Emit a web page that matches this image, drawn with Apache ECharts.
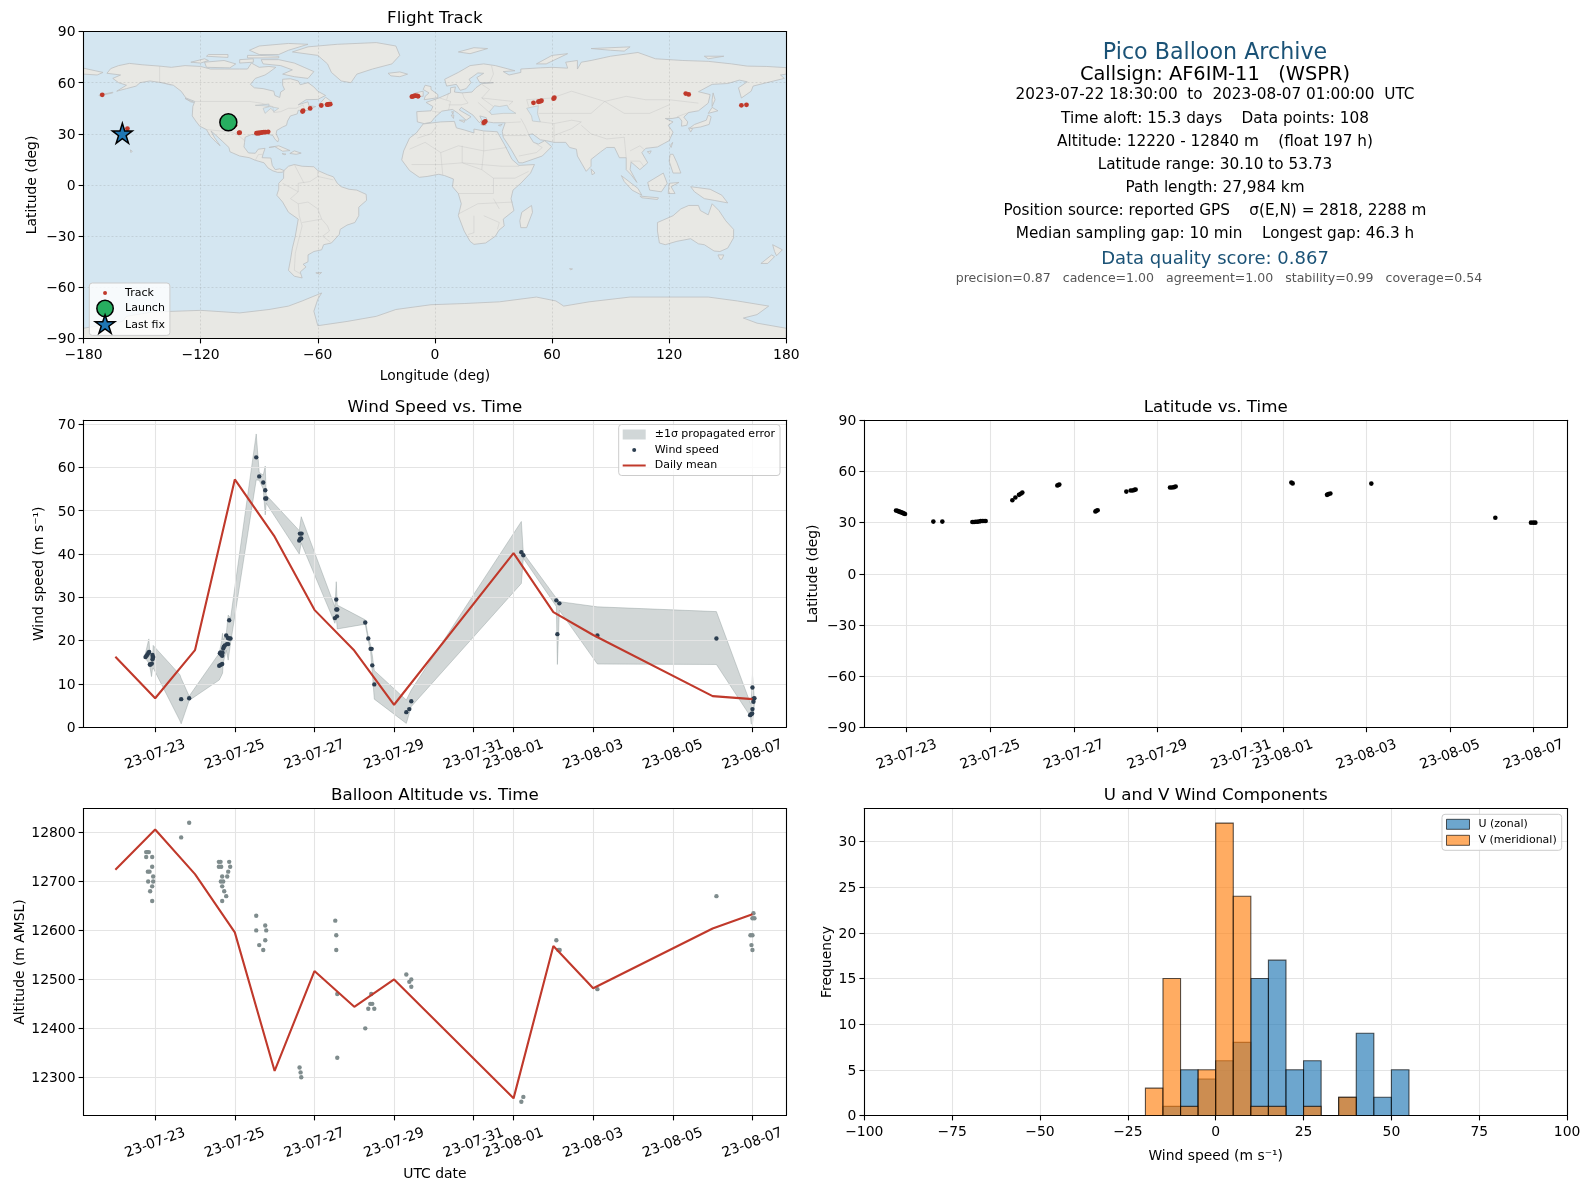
<!DOCTYPE html>
<html><head><meta charset="utf-8">
<style>html,body{margin:0;padding:0;background:#fff}#c{width:1589px;height:1189px}</style>
<script src="https://cdn.jsdelivr.net/npm/echarts@6/dist/echarts.min.js"></script>
</head><body><div id="c"></div>
<script>
// ---------- shared tick values ----------
const timeTickDays = [0,2,4,6,8,9,11,13,15];
const lonTicks = [-180,-120,-60,0,60,120,180];
const latTicks = [-90,-60,-30,0,30,60,90];
const windTicks = [0,10,20,30,40,50,60,70];
const altTicks = [12300,12400,12500,12600,12700,12800];
const histXTicks = [-100,-75,-50,-25,0,25,50,75,100];
const histYTicks = [0,5,10,15,20,25,30];

// ---------- flight track (lon, lat) ----------
const trackLon = [-105.6,-105.1,-104.6,-104.1,-103.6,-103.2,-102.8,-102.4,-100.3,-100.0,-91.4,-91,-90.4,-89.8,-89,-88.4,-87.6,-86.8,-85.4,-67.8,-67.5,-63.9,-58.2,-55.2,-54.8,-54.2,-53.6,-11.8,-11.2,-10.6,-10,-9,-8.6,25,25.4,25.8,50.5,53,53.6,54.2,54.6,60.8,61.2,128.5,130,157,159.6,-170.4,-157.5,-160.3,-160.1,-159.9];
const trackLat = [37.1,36.9,36.6,36.3,36,35.7,35.4,35.1,30.6,30.7,30.4,30.4,30.5,30.5,30.7,30.9,31,31,31.2,43.1,43.6,44.9,46.6,47.1,47.2,47.4,47.4,51.8,52,52.2,52.4,52.2,52,36.5,36.9,37.3,48.2,48.8,49,49.2,49.4,50.6,51.2,53.6,53.1,46.7,47,52.9,33.1,30,30.1,30.2];
const launchPoint = [-105.8,36.8];
const lastFixPoint = [-160.1,30.3];

// ---------- wind speed, days after 2023-07-23 00:00 UTC ----------
const windDays = [-0.243,-0.218,-0.193,-0.168,-0.151,-0.134,-0.117,-0.084,-0.067,-0.067,-0.059,-0.05,0.653,0.854,1.608,1.625,1.642,1.642,1.658,1.683,1.683,1.692,1.709,1.725,1.75,1.784,1.801,1.826,1.834,1.859,1.859,1.893,2.538,2.613,2.714,2.764,2.764,2.789,3.618,3.635,3.643,3.668,3.677,4.514,4.548,4.548,4.565,4.573,5.276,5.352,5.41,5.436,5.452,5.503,6.307,6.382,6.432,9.196,9.246,10.075,10.101,10.151,11.106,14.095,14.942,14.967,14.992,15,15,15.025,15.025,15.05];
const windSpeed = [16.2,16.5,16.8,17.2,17.4,14.5,14.5,14.7,16.7,15.7,16.2,16.2,6.5,6.7,14.2,17.1,14.4,17.3,16.8,14.6,16.5,17.2,18.2,18.6,18.9,21.2,19.2,20.6,19.2,20.5,24.7,20.5,62.3,57.9,56.5,54.7,52.8,52.8,43.1,44.7,43.5,43.6,44.7,25.2,27.2,29.5,25.6,27.2,24.2,20.5,18.1,18.1,14.3,9.9,3.5,4.2,6,40.4,39.7,29.3,21.5,28.6,21.2,20.5,2.8,3,3.2,9.2,4.2,6.6,5.9,6.7];
const bandDays = [-0.243,-0.159,-0.134,-0.092,-0.067,-0.05,0.622,0.653,0.854,1.608,1.658,1.692,1.709,1.784,1.834,1.893,2.538,2.613,2.714,2.764,2.789,3.618,3.668,4.514,4.548,4.573,5.276,5.352,5.41,5.452,5.503,6.307,6.432,9.196,9.246,10.075,10.101,10.151,11.106,14.095,14.95,14.967,15,15.05];
const bandHigh = [17.1,20.4,17.5,15.8,15.2,18.9,12.1,11.3,7.2,17.1,19.4,21.7,20.2,21.5,25.9,25.2,67.7,58.8,58.2,60.3,53.6,45.4,48.6,27.8,33.6,28.2,24.8,20.9,19,16.7,13.1,6.3,8.6,47.5,40.2,29.8,29.4,29,27.8,26.7,5.5,5.5,12.1,6.3];
const bandLow = [15.9,14.8,14,11.7,13.5,13.7,1.5,0.8,6.2,10.9,11.8,12.5,14.8,17.8,15.5,19.4,57.1,57,55,49,51.7,40,42.5,24,25.5,22.7,23.8,20,17.5,12.8,6.5,0.9,4.8,33.2,39,27.9,14.5,27,14.6,14.5,2.5,0.8,0.8,5.5];
const dailyDays = [-1,0,1,2,3,4,5,6,9,10,11,14,15];
const dailyWind = [16.3,6.7,17.8,57.2,44,27.1,17.7,5.2,40.2,26.6,21.3,7.2,6.5];
const dailyAlt = [12724,12806,12715,12596,12313,12517,12444,12500,12257,12568,12482,12604,12633];

// ---------- latitude ----------
const latDays = [-0.255,-0.223,-0.191,-0.159,-0.128,-0.096,-0.072,-0.04,0.638,0.853,1.571,1.611,1.651,1.691,1.73,1.77,1.81,1.85,1.89,2.528,2.6,2.687,2.727,2.767,3.604,3.628,3.652,4.514,4.537,4.569,5.255,5.359,5.407,5.447,5.478,6.3,6.348,6.396,6.435,9.203,9.234,10.056,10.088,10.136,11.116,14.083,14.936,14.992,15.04];
const latValues = [37.1,36.9,36.6,36.3,36,35.7,35.4,35.1,30.6,30.6,30.4,30.4,30.5,30.5,30.7,30.9,31,31,31,43.1,44.7,46.3,46.9,47.6,51.8,52.1,52.4,36.5,36.9,37.3,48.2,48.8,48.8,49.2,49.4,50.6,50.6,50.8,51.2,53.5,53,46.3,46.7,47.1,52.9,32.9,30,30,30];

// ---------- altitude ----------
const altDays = [-0.226,-0.193,-0.159,-0.226,-0.075,-0.075,-0.184,-0.142,-0.05,-0.176,-0.05,-0.075,-0.126,-0.075,0.653,0.854,1.6,1.642,1.859,1.6,1.658,1.884,1.834,1.683,1.809,1.65,1.709,1.683,1.734,1.784,1.683,2.538,2.764,2.538,2.789,2.764,2.613,2.714,3.626,3.652,3.668,4.523,4.548,4.548,4.573,4.573,5.427,5.402,5.452,5.352,5.503,5.276,6.307,6.382,6.432,6.432,9.196,9.246,10.075,10.126,10.159,11.106,14.095,15.025,15,15.05,14.95,15,14.975,15];
const altValues = [12760,12760,12760,12750,12750,12730,12720,12720,12710,12700,12700,12690,12680,12660,12790,12820,12740,12740,12740,12730,12730,12730,12720,12710,12710,12700,12700,12690,12680,12670,12660,12630,12610,12600,12600,12580,12570,12560,12320,12310,12300,12620,12590,12560,12470,12340,12470,12450,12450,12440,12440,12400,12510,12495,12500,12485,12250,12260,12580,12560,12560,12480,12670,12635,12625,12625,12590,12590,12570,12560];

// ---------- histogram ----------
const histBinLeft = [-20,-15,-10,-5,0,5,10,15,20,25,30,35,40,45,50];
const histU = [0,1,5,4,6,8,15,17,5,6,0,2,9,2,5];
const histV = [3,15,1,5,32,24,1,1,0,1,0,2,0,0,0];
const histBinWidth = 5;

// ---------- info panel ----------
const infoLines = [
 ["Pico Balloon Archive",53.5,22.2,"#1a5276",1215],
 ["Callsign: AF6IM-11   (WSPR)",75,19.4,"#000",1215],
 ["2023-07-22 18:30:00  to  2023-08-07 01:00:00  UTC",95.5,15.28,"#000",1215],
 ["Time aloft: 15.3 days    Data points: 108",119,15.28,"#000",1215],
 ["Altitude: 12220 - 12840 m    (float 197 h)",142,15.28,"#000",1215],
 ["Latitude range: 30.10 to 53.73",165,15.28,"#000",1215],
 ["Path length: 27,984 km",188.2,15.28,"#000",1215],
 ["Position source: reported GPS    σ(E,N) = 2818, 2288 m",211.3,15.28,"#000",1215],
 ["Median sampling gap: 10 min    Longest gap: 46.3 h",234.4,15.28,"#000",1215],
 ["Data quality score: 0.867",259,18,"#1a5276",1215],
 ["precision=0.87   cadence=1.00   agreement=1.00   stability=0.99   coverage=0.54",278.5,12.55,"#555",1219]
];

// ---------- base map outlines (lon, lat) ----------
const landPolygons = [
 // North America
 [[-168,65.5],[-166,68.3],[-162,70],[-156.5,71.3],[-150,70.5],[-141,69.7],[-135,69],[-128,70],[-120,69.5],[-115,68],[-108,68],[-100,68],[-96,68],[-94,71.5],[-90,69],[-85,69.5],[-81.5,69],[-85,66],[-87,64.5],[-92,62.5],[-94.5,59],[-92.5,57],[-88,56.5],[-82.5,55],[-82,52.5],[-79.5,51.3],[-79,54.5],[-77,56],[-78,58.5],[-78,62],[-74,62.3],[-70,61],[-69,58.8],[-65,60],[-62,57.5],[-60,55],[-56,52.5],[-60,50.2],[-66,50],[-70,47],[-65,48.8],[-64.5,46.5],[-61,46],[-65.5,43.7],[-70,43.8],[-70.5,41.7],[-74,40.5],[-75.5,37.5],[-76,35],[-78,34],[-81,32],[-81.3,30],[-80,26.8],[-80.5,25.2],[-82,27],[-83,29],[-85,29.7],[-89,30.3],[-90,29.2],[-94,29.6],[-97.2,28],[-97.5,25],[-97.8,22.3],[-95.5,18.8],[-92,18.6],[-90.5,21],[-87,21.5],[-88,18.2],[-88.5,16],[-84,15.8],[-83.3,11.5],[-81.8,9],[-79.5,9.5],[-77.3,8.5],[-78,7.5],[-80.5,7.4],[-83,8.3],[-85.5,10],[-87.5,13],[-92,14.5],[-95,16],[-100,17],[-105,19.5],[-105.5,22],[-109,25.8],[-112.5,29.5],[-114.7,31.7],[-113,28],[-110,23],[-112,25],[-115,28.5],[-117,32.5],[-120.5,34.5],[-122.5,37.5],[-124.3,40.5],[-124,46],[-123,49],[-127.5,51],[-130,55],[-134,58.5],[-140,60],[-146,61],[-151,60],[-153,58],[-158,56.5],[-163,55],[-158,58.5],[-162,60],[-165,62.5],[-161,64.5]],
 // Greenland
 [[-73,78],[-65,81],[-50,82.5],[-30,83.5],[-20,81.5],[-18,76],[-22,71],[-32,68],[-40,65],[-43,60],[-48,61],[-53,66],[-55,71],[-60,76]],
 // Canadian Arctic and Atlantic islands
 [[-80,73.5],[-72,71.5],[-67,69],[-62,66.5],[-65,62.5],[-72,63.5],[-78,65],[-73,67.5],[-79,70],[-88,71],[-89,73.5]],
 [[-90,76.5],[-80,76.5],[-75,79],[-65,82.5],[-75,83],[-90,81.5],[-95,79]],
 [[-117,69],[-105,68.7],[-102,71],[-108,73],[-118,72]],
 [[-125,72],[-118,74],[-116,73],[-120,71.5]],
 [[-96,74.5],[-80,74.5],[-80,75.5],[-90,76],[-96,76]],
 [[-100,71.5],[-93,72],[-93,74],[-100,73.5]],
 [[-117,75.5],[-106,74.8],[-106,76.5],[-116,76.5]],
 [[-59,47.7],[-53,46.8],[-53,49],[-56,51.5]],
 [[-128,50.8],[-123.5,48.5],[-125,48.7]],
 [[-85,22],[-80,23],[-74.2,20.2],[-78,19.8],[-82,22.5]],
 [[-74.3,18.5],[-72,20],[-68.5,18.7],[-71,18]],
 [[-78.3,18.4],[-76.3,18.1],[-77,17.8]],
 [[-156,20.6],[-155,19.8],[-155.7,19]],
 [[-172,52.3],[-165,54],[-165,54.4],[-172,52.7]],
 // South America
 [[-77.3,8.5],[-75,11],[-72,12],[-68,11],[-62,10.7],[-60,8.5],[-55,6],[-52,4.8],[-50,1],[-48,-1],[-44,-2.5],[-40,-3],[-35.2,-5.5],[-35,-9],[-39,-13],[-39,-18],[-41,-22],[-45,-23.5],[-48.5,-26],[-49,-29],[-53,-34],[-57,-35],[-58,-38],[-62,-39],[-65,-41],[-65,-45],[-67.5,-46.5],[-66,-48],[-69,-51],[-68,-54.5],[-72,-53.5],[-75,-50],[-74,-44],[-73,-37],[-71.5,-30],[-70,-20],[-75,-16],[-78,-10],[-81,-6],[-80,-2.5],[-80,1],[-77.5,4],[-77.5,7]],
 [[-61,-51.5],[-58,-51.3],[-59,-52.3]],
 // Africa
 [[-6,35.8],[3,37],[10,37.3],[11,33.5],[15,32.3],[20,30.5],[20,32.8],[25,31.7],[32,31.2],[32.5,30],[35.5,24],[37.3,20],[39.5,15],[43,11.5],[51,12],[49,7],[44,1],[40,-3],[39,-8],[40.5,-15],[35,-20],[35.5,-24],[32.8,-26.5],[31,-30],[26,-34],[20,-34.8],[18,-33],[15,-27],[12,-18],[13.5,-11],[12,-5],[9,-1],[9.5,3.5],[5,5.5],[2,6.3],[-4,5],[-8,4.5],[-13,8.5],[-17,14.7],[-16,20],[-13,27.5],[-9.5,30.5]],
 [[49.5,-12],[50,-16],[47,-25],[44,-25],[43.5,-21],[44.5,-16]],
 // Eurasia
 [[-9,37],[-9.3,43],[-2,43.5],[-1,46],[-4.5,48.4],[2,51],[4,52],[8,54],[8,57],[10.5,57.5],[10,54.5],[14,54],[19,54.5],[21,57],[24,59.4],[30,60],[23,60],[21.5,63],[25,65.5],[22,65.7],[17.5,62],[18.5,60],[16,56.5],[13,55.5],[11,59],[6,58],[5,62],[12,66],[18,70],[25,71],[31,70],[41,67],[35,66.5],[38,64.5],[44,66],[44,68],[54,68.7],[60,69],[68,68.5],[67,72],[73,73],[73,68],[75,72],[80,73],[90,75.5],[104,77.7],[113,74],[127,73],[140,72.5],[152,71],[160,69.7],[170,69.5],[180,68.8],[180,65],[177,64.5],[179,62.5],[170,60],[163,58],[162,55],[157,51],[155.5,57],[160,60.5],[156,61.5],[150,59.5],[142,59],[135,54.7],[141,53],[140,48],[135,43.5],[130,42.5],[127.5,39.8],[129.5,37],[129,35],[126.3,34.5],[126.5,37.5],[125,39.7],[121.5,39],[118,39],[122,37],[119.5,35],[122,31],[120,26],[114,22.3],[108,21.5],[106,19],[109,13],[105,9],[100.5,13.5],[100,9],[103.5,1.5],[100.5,6],[98,9],[98,16],[94.5,16],[92,22],[88,22],[85,19.5],[80,15],[80,11],[77.5,8],[73,17],[72.5,21],[69,22],[67,25],[61,25],[57,26],[54,26.5],[50,30],[48,29.5],[50.5,25],[53,24],[56.3,26],[59.8,22.5],[55,17],[45,13],[43,13],[39,21],[35,28],[34.5,31.5],[36,36.5],[30,36.5],[27,37],[26.3,39.5],[23,40.5],[24,38],[22.8,36.5],[19.5,41],[13.5,45.5],[12.5,44],[18.5,40],[16,38],[12,42],[9,44.3],[3.5,43.3],[0,39.7],[-2,36.8],[-5.5,36]],
 [[-180,68.5],[-174,67],[-170,66],[-173,64.5],[-180,65]],
 // Eurasian islands
 [[-5.5,50],[1.5,51.2],[1.5,53],[-2,56],[-2,57.7],[-5,58.5],[-6,56],[-3,54],[-5,52]],
 [[-10,52],[-6,52],[-6,55],[-10,54]],
 [[-24,65.5],[-18,66.3],[-14,65],[-18,63.5],[-22.5,64]],
 [[130,33],[136,34],[140.5,35.5],[141.5,40],[140,41],[139,38],[133,35.5]],
 [[130,33.5],[132,33],[131,31]],
 [[140,42],[145,43.5],[142,45.5]],
 [[142,46],[143.5,50],[142.5,54],[142,50]],
 [[120.5,23],[121.8,25],[121,22]],
 [[108.8,19.5],[110.8,20],[110,18.3]],
 [[120.5,18],[122,18],[124,13],[126,7],[122,7],[120,14]],
 [[109,1.5],[117,7],[119,1],[116,-4],[110,-3]],
 [[95.5,5.5],[104,-2],[106,-6],[101,-3],[97,2]],
 [[105,-6.5],[114.5,-7.5],[114,-8.5],[106,-7.5]],
 [[119.5,-5],[120,1],[125,1.5],[121,-1],[123,-5]],
 [[131,-1],[141,-2.5],[147,-6],[150,-10.5],[143,-9],[138,-8],[133,-4]],
 [[80,9.5],[82,7],[80.5,6]],
 [[52,71],[57,71],[68,77],[60,76]],
 [[12,78],[20,80.5],[27,80],[18,77]],
 [[12.5,38],[15.5,38],[15,36.7]],
 [[8.3,41],[9.7,41],[9.5,39]],
 [[8.6,43],[9.5,43],[9.2,41.5]],
 [[32.5,35],[34.5,35.6],[33.5,34.6]],
 [[23.5,35.5],[26.3,35.2],[24.5,34.9]],
 [[80,80],[100,81],[97,78.5],[90,79]],
 [[148,75.5],[140,74],[138,75.5]],
 // Australia and New Zealand
 [[114,-22],[122,-18],[126,-14],[130,-12],[135,-12],[136,-15],[140,-17.5],[142,-11],[145.5,-15],[149,-21],[153,-26],[153,-31],[150,-37],[146,-39],[143,-38.7],[138,-35],[135,-34.5],[131,-31.5],[124,-33],[118,-35],[115,-34],[114,-27]],
 [[145,-41],[148,-41],[147,-43.5],[146,-43.5]],
 [[173,-35],[178,-38],[175,-41.5],[174,-39]],
 [[172.5,-41],[174,-42],[170.5,-46],[167,-46]],
 [[69,-49],[70.5,-49.2],[69.5,-49.8]],
 // Antarctica
 [[-180,-90],[-180,-84],[-160,-80],[-158,-77],[-145,-74.5],[-120,-73.5],[-100,-75],[-85,-73],[-75,-71],[-68,-68],[-58,-63.3],[-60,-67],[-62,-74],[-60,-82.5],[-45,-80],[-30,-77],[-20,-73],[-2,-70.2],[15,-69.5],[33,-68.5],[52,-65.7],[62,-68],[66,-71],[79,-68.5],[100,-65.7],[140,-65.7],[155,-68],[171,-71],[165,-76],[158,-78],[165,-81],[180,-84],[180,-90]]
];
const waterPolygons = [
 [[28,43],[29,41.3],[35,42],[41.5,42],[38,44.5],[37,46.8],[33,46],[30.5,46.5]],
 [[47,45],[53,46.5],[52.5,42],[54,37],[50,37.5],[49.5,40.5]],
 [[-92,46.7],[-85,47.5],[-85,46],[-88,46.5]],
 [[-88,45],[-84.5,46],[-80,45],[-82.5,43],[-84,45],[-87,42]]
];
const borderLines = [
 [[-123,49],[-95,49],[-89,48],[-83,46],[-82.5,42.5],[-79,43],[-75,45],[-71,45],[-67.5,47],[-67,45]],
 [[-141,69.7],[-141,60.3],[-135,58.5]],
 [[-117,32.5],[-108,31.5],[-106,31.7],[-101,29.5],[-97.5,26]],
 [[-92,14.5],[-90.5,17.8],[-88.5,18]],
 [[-52,3],[-60,5],[-64,2],[-70,1],[-70,-4],[-74,-8],[-70,-11],[-65,-10],[-60,-14],[-58,-20],[-55,-24],[-54,-27],[-57.5,-30],[-53.5,-33.5]],
 [[-69.5,-18],[-68,-24],[-70,-33],[-71.5,-40],[-72,-50],[-69,-52]],
 [[-68,-22],[-58,-20]],[[-78,1],[-70,-4]],[[-72,12],[-67,1]],[[-60,8],[-60,5]],[[-70,-11],[-69.5,-18]],
 [[-9,27.5],[-2,30],[1,35]],[[-13,21],[-5,25],[3,19],[12,23],[25,20],[37,22]],
 [[25,31.5],[25,20],[24,9],[14,13],[14,23]],[[4,6],[3,19]],[[-12,12],[3,12],[14,13],[34,11],[43,11]],
 [[24,9],[30,4],[41,4],[48,8]],[[12,-5],[30,-5],[30,4]],[[40,-10],[22,-11],[12,-17]],[[30,-8],[33,-14]],
 [[20,-18],[20,-28],[17,-29]],[[25,-18],[33,-22],[32,-26]],
 [[-1.5,43.3],[3,42.5]],[[2.5,51],[8,49],[7,44]],[[7,54],[6,50]],[[14,54],[15,51],[17,48],[13.5,47],[7,47]],
 [[24,59],[28,56],[24,51],[30,46]],[[22,48.5],[29,41.5]],[[24,51],[40,49],[38,47]],[[28,60],[30,65],[29,70]],
 [[48,46],[47,50],[60,51],[70,55],[87,49]],[[53,42],[60,42],[70,42],[80,42],[87,49]],
 [[87,49],[98,52],[108,50],[120,50],[135,48]],[[87,49],[97,42],[110,42],[120,47]],
 [[44,39],[46,35],[48,30]],[[61,36],[61,25]],[[61,29],[70,33],[75,37]],[[54,37],[61,36],[70,38],[75,37]],
 [[75,35],[80,30],[88,27],[97,28]],[[97,28],[98,16]],[[100,20],[105,23],[107,21]],[[100,14],[105,14],[107,11]],
 [[36,36.5],[44,37]],[[35,29],[47,29]],[[43,17],[52,19],[55,22],[52,24]],[[124,40],[130,42.5]]
];

// ---------- colours ----------
const OCEAN='#d4e6f1', LAND='#e8e8e4', LAND_EDGE='#bcbfc0', BORDER='rgba(190,190,190,0.5)';
const RED='#c0392b', NAVY='#2c3e50', GREY='#7f8c8d', BLUEHIST='rgba(31,119,180,0.65)', ORANGEHIST='rgba(255,127,14,0.65)';
const HISTEDGE='rgba(0,0,0,0.65)', GRIDC='#e4e4e4';
const FONT='"DejaVu Sans"', TICK=13.9, TITLE=16.7, LEG=11, NAME=13.9;
const DAY=86400000, T0=Date.UTC(2023,6,23);
const toTime=d=>T0+d*DAY;
const minusSign=v=>String(v).replace('-','\u2212');
const pair=(a,b,f)=>a.map((v,i)=>[f?f(v):v,b[i]]);

// ---------- panel rectangles ----------
const L1=83.5,L2=864.3,W=702.8,H=307;
const rects=[{left:L1,top:31.5,width:W,height:H},{left:L1,top:420.3,width:W,height:H},{left:L2,top:420.3,width:W,height:H},{left:L1,top:808.5,width:W,height:H},{left:L2,top:808.5,width:W,height:H}];
const axisLine={show:true,lineStyle:{color:'#000',width:1.1}};
const axisTick={show:true,length:4.9,lineStyle:{color:'#000',width:1.1}};
const labelBase={fontFamily:FONT,fontSize:TICK,color:'#000'};

function xValue(g,min,max,ticks,name,gap,split){
 return {type:'value',gridIndex:g,min,max,axisLine:{...axisLine,onZero:false},axisTick:{...axisTick,customValues:ticks},z:2,
  axisLabel:{...labelBase,margin:10,customValues:ticks,formatter:minusSign,showMinLabel:true,showMaxLabel:true,hideOverlap:false},
  splitLine:split||{show:true,lineStyle:{color:GRIDC,width:1.1}},
  name,nameLocation:'middle',nameGap:gap,nameTextStyle:{fontFamily:FONT,fontSize:NAME,color:'#000'}};
}
function xTime(g,minD,maxD,name,gap){
 const ticks=timeTickDays.map(toTime);
 return {type:'value',gridIndex:g,min:toTime(minD),max:toTime(maxD),axisLine:{...axisLine,onZero:false},axisTick:{...axisTick,customValues:ticks},z:2,
  axisLabel:{...labelBase,customValues:ticks,rotate:20,align:'center',verticalAlign:'middle',margin:27.5,hideOverlap:false,showMinLabel:true,showMaxLabel:true,
   formatter:v=>new Date(v).toISOString().slice(2,10)},
  splitLine:{show:true,lineStyle:{color:GRIDC,width:1.1}},
  name,nameLocation:'middle',nameGap:gap,nameTextStyle:{fontFamily:FONT,fontSize:NAME,color:'#000'}};
}
function yValue(g,min,max,ticks,name,gap,split){
 return {type:'value',gridIndex:g,min,max,axisLine:{...axisLine,onZero:false},axisTick:{...axisTick,customValues:ticks},z:2,
  axisLabel:{...labelBase,margin:8,customValues:ticks,showMinLabel:true,showMaxLabel:true,hideOverlap:false,
   formatter:v=>'{t|'+minusSign(v)+'}',rich:{t:{fontFamily:FONT,fontSize:TICK,color:'#000',padding:[2.5,0,0,0]}}},
  splitLine:split||{show:true,lineStyle:{color:GRIDC,width:1.1}},
  name,nameLocation:'middle',nameGap:gap,nameTextStyle:{fontFamily:FONT,fontSize:NAME,color:'#000'}};
}
const frameX=g=>({type:'value',gridIndex:g,position:'top',axisLine:{...axisLine,onZero:false},axisTick:{show:false},axisLabel:{show:false},splitLine:{show:false},z:6});
const frameY=g=>({type:'value',gridIndex:g,position:'right',axisLine:{...axisLine,onZero:false},axisTick:{show:false},axisLabel:{show:false},splitLine:{show:false},z:6});
const mapSplit={show:true,lineStyle:{color:'rgba(120,120,120,0.2)',width:1,type:[2,2]}};

const xAxes=[
 xValue(0,-180,180,lonTicks,'Longitude (deg)',31,mapSplit),
 xTime(1,-1.8,15.85,'',0),
 xTime(2,-1.014,15.8,'',0),
 xTime(3,-1.8,15.85,'UTC date',52),
 xValue(4,-100,100,histXTicks,'Wind speed (m s\u207B\u00B9)',34),
 frameX(0),frameX(1),frameX(2),frameX(3),frameX(4)
];
const yAxes=[
 yValue(0,-90,90,latTicks,'Latitude (deg)',44,mapSplit),
 yValue(1,0,70.85,windTicks,'Wind speed (m s\u207B\u00B9)',37),
 yValue(2,-90,90,latTicks,'Latitude (deg)',44),
 yValue(3,12222,12849,altTicks,'Altitude (m AMSL)',56),
 yValue(4,0,33.6,histYTicks,'Frequency',30),
 frameY(0),frameY(1),frameY(2),frameY(3),frameY(4)
];

const polyRender=(list,style,type)=>(params,api)=>({type:type||'polygon',shape:{points:list[params.dataIndex].map(p=>api.coord(p))},style});
const bandRender=(params,api)=>{
 if(params.dataIndex!==0) return null;
 const up=bandDays.map((d,i)=>api.coord([toTime(d),bandHigh[i]]));
 const lo=bandDays.map((d,i)=>api.coord([toTime(d),bandLow[i]])).reverse();
 return {type:'polygon',shape:{points:up.concat(lo)},style:{fill:'rgba(127,140,141,0.35)',stroke:'rgba(127,140,141,0.35)',lineWidth:1}};
};
const histRender=(fill)=>(params,api)=>{
 const a=api.coord([api.value(0),api.value(2)]), b=api.coord([api.value(1),0]);
 return {type:'rect',shape:{x:a[0],y:a[1],width:b[0]-a[0],height:b[1]-a[1]},style:{fill,stroke:HISTEDGE,lineWidth:1.1}};
};
const histData=arr=>histBinLeft.map((l,i)=>[l,l+histBinWidth,arr[i]]).filter(r=>r[2]>0);
const mapShapes=(list,name,render,z)=>({type:'custom',name,xAxisIndex:0,yAxisIndex:0,coordinateSystem:'cartesian2d',z,silent:true,renderItem:render,encode:{x:0,y:1},data:list.map(p=>p[0])});

const series=[
 mapShapes(landPolygons,'land',polyRender(landPolygons,{fill:LAND,stroke:LAND_EDGE,lineWidth:0.8}),1),
 mapShapes(waterPolygons,'water',polyRender(waterPolygons,{fill:OCEAN,stroke:LAND_EDGE,lineWidth:0.6}),1),
 mapShapes(borderLines,'borders',polyRender(borderLines,{fill:'none',stroke:BORDER,lineWidth:0.7},'polyline'),1),
 {type:'scatter',name:'Track',xAxisIndex:0,yAxisIndex:0,z:5,symbolSize:4.8,itemStyle:{color:RED,opacity:1},data:pair(trackLon,trackLat)},
 {type:'scatter',name:'Launch',xAxisIndex:0,yAxisIndex:0,z:6,symbolSize:17,itemStyle:{color:'#27ae60',borderColor:'#000',borderWidth:1.5,opacity:1},data:[launchPoint]},
 {type:'scatter',name:'Last fix',xAxisIndex:0,yAxisIndex:0,z:7,symbol:'path://M50 0 L61.8 36.3 L100 36.3 L69.1 58.8 L80.9 95.1 L50 72.6 L19.1 95.1 L30.9 58.8 L0 36.3 L38.2 36.3 Z',symbolSize:20,itemStyle:{color:'#1f77b4',borderColor:'#000',borderWidth:1.5,opacity:1},data:[lastFixPoint]},

 {type:'custom',name:'\u00B11\u03C3 propagated error',xAxisIndex:1,yAxisIndex:1,z:1,silent:true,itemStyle:{color:'#d1d7d8'},renderItem:bandRender,encode:{x:0,y:1},data:[[toTime(bandDays[0]),bandHigh[0]]]},
 {type:'scatter',name:'Wind speed',xAxisIndex:1,yAxisIndex:1,z:3,symbolSize:4.4,itemStyle:{color:NAVY,opacity:1},data:pair(windDays,windSpeed,toTime)},
 {type:'line',name:'Daily mean',xAxisIndex:1,yAxisIndex:1,z:4,symbol:'none',lineStyle:{color:RED,width:2.1},itemStyle:{color:RED},data:pair(dailyDays,dailyWind,toTime)},

 {type:'scatter',name:'Latitude',xAxisIndex:2,yAxisIndex:2,z:3,symbolSize:4.6,itemStyle:{color:'#000',opacity:1},data:pair(latDays,latValues,toTime)},

 {type:'scatter',name:'Altitude',xAxisIndex:3,yAxisIndex:3,z:3,symbolSize:4.4,itemStyle:{color:GREY,opacity:1},data:pair(altDays,altValues,toTime)},
 {type:'line',name:'Daily mean altitude',xAxisIndex:3,yAxisIndex:3,z:4,symbol:'none',lineStyle:{color:RED,width:2.1},data:pair(dailyDays,dailyAlt,toTime)},

 {type:'custom',name:'U (zonal)',xAxisIndex:4,yAxisIndex:4,z:3,silent:true,itemStyle:{color:BLUEHIST},renderItem:histRender(BLUEHIST),encode:{x:[0,1],y:2},data:histData(histU)},
 {type:'custom',name:'V (meridional)',xAxisIndex:4,yAxisIndex:4,z:4,silent:true,itemStyle:{color:ORANGEHIST},renderItem:histRender(ORANGEHIST),encode:{x:[0,1],y:2},data:histData(histV)}
];

const box={backgroundColor:'rgba(255,255,255,0.8)',borderColor:'#cccccc',borderWidth:1,borderRadius:3,selectedMode:false,orient:'vertical',align:'left',z:9,textStyle:{fontFamily:FONT,fontSize:LEG,color:'#000'}};
const barIcon='path://M0 0 M27 10 M0 0 L23 0 L23 10 L0 10 Z';
const legends=[
 {...box,left:89.3,top:283,padding:[0,5,0,0],itemWidth:30,itemHeight:20,itemGap:-5.3,data:[
  {name:'Track',icon:'path://M0 0 M30 20 M13 10 a2 2 0 1 0 4 0 a2 2 0 1 0 -4 0 Z',itemStyle:{color:RED,opacity:1}},
  {name:'Launch',icon:'path://M0 0 M30 20 M6.8 10 a8.2 8.2 0 1 0 16.4 0 a8.2 8.2 0 1 0 -16.4 0 Z',itemStyle:{color:'#27ae60',borderColor:'#000',borderWidth:1.5,opacity:1}},
  {name:'Last fix',icon:'path://M0 0 M30 20 M15 0.2 L17.3 7.2 L24.8 7.2 L18.8 11.6 L21.1 18.7 L15 14.3 L8.9 18.7 L11.2 11.6 L5.2 7.2 L12.7 7.2 Z',itemStyle:{color:'#1f77b4',borderColor:'#000',borderWidth:1.5,opacity:1}}
 ]},
 {...box,right:1589-780,top:424.5,padding:[4.5,5,4.5,4],itemWidth:27,itemHeight:10,itemGap:4.5,data:[
  {name:'\u00B11\u03C3 propagated error',icon:barIcon,itemStyle:{color:'#d1d7d8'}},
  {name:'Wind speed',icon:'path://M0 0 M27 10 M9.5 5 a2 2 0 1 0 4 0 a2 2 0 1 0 -4 0 Z',itemStyle:{color:NAVY,opacity:1}},
  {name:'Daily mean',icon:'path://M0 0 M27 10 M0 4 L23 4 L23 6 L0 6 Z',itemStyle:{color:RED}}
 ]},
 {...box,right:1589-1561.7,top:814.3,padding:[4.5,5,4.5,4],itemWidth:27,itemHeight:10,itemGap:5,data:[
  {name:'U (zonal)',icon:barIcon,itemStyle:{color:BLUEHIST,borderColor:HISTEDGE,borderWidth:1}},
  {name:'V (meridional)',icon:barIcon,itemStyle:{color:ORANGEHIST,borderColor:HISTEDGE,borderWidth:1}}
 ]}
];

const panelTitle=(text,r)=>({text,left:r.left+r.width/2,top:r.top-4,textAlign:'center',textVerticalAlign:'bottom',padding:0,textStyle:{fontFamily:FONT,fontSize:TITLE,fontWeight:'normal',color:'#000'}});
const titles=[panelTitle('Flight Track',rects[0]),panelTitle('Wind Speed vs. Time',rects[1]),panelTitle('Latitude vs. Time',rects[2]),panelTitle('Balloon Altitude vs. Time',rects[3]),panelTitle('U and V Wind Components',rects[4])];

const infoText=infoLines.map(l=>({type:'text',x:l[4],y:l[1],style:{text:l[0],fontFamily:FONT,fontSize:l[2],fill:l[3],textAlign:'center',textVerticalAlign:'middle'}}));

const chart=echarts.init(document.getElementById('c'),null,{width:1589,height:1189,devicePixelRatio:1});
chart.setOption({
 animation:false,backgroundColor:'#fff',useUTC:true,tooltip:{show:false},
 textStyle:{fontFamily:FONT},
 title:titles,legend:legends,
 grid:rects.map((r,i)=>({...r,containLabel:false,show:i===0,backgroundColor:i===0?OCEAN:'transparent',borderWidth:0})),
 xAxis:xAxes,yAxis:yAxes,series,graphic:{elements:infoText}
});
</script></body></html>
